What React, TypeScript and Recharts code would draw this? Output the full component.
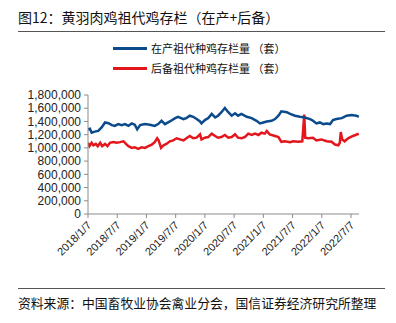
import React from "react";
import { LineChart, Line, XAxis, YAxis } from "recharts";

const tickLabels = [
  "2018/1/7", "2018/7/7", "2019/1/7", "2019/7/7", "2020/1/7",
  "2020/7/7", "2021/1/7", "2021/7/7", "2022/1/7", "2022/7/7",
];
const tickMonths = [0, 6, 12, 18, 24, 30, 36, 42, 48, 54];

// month offset from 2018/1/7
const prodMonths = [
  0, 0.4, 0.75, 1.4, 2.1, 2.8, 3.5, 4.2, 4.9, 5.5, 6.2, 6.9, 7.6, 8.3, 9.0, 9.6, 10.1, 10.7,
  11.7, 12.7, 13.7, 14.4, 15.1, 15.8, 16.8, 17.9, 18.5, 19.6, 20.2, 20.9, 21.6, 22.3, 23.0,
  23.3, 24.0, 24.7, 25.4, 26.1, 26.7, 27.4, 28.1, 28.8, 29.5, 30.2, 30.8, 31.5, 32.6, 33.6,
  34.6, 35.3, 36.0, 36.7, 37.7, 38.4, 39.1, 39.7, 40.8, 41.5, 42.5, 43.5, 44.5, 45.6, 46.2,
  46.9, 47.6, 48.3, 49.0, 49.7, 50.3, 51.0, 52.1, 53.1, 54.1, 55.1, 55.6,
];
const prodValues = [
  1282000, 1290000, 1230000, 1246000, 1256000, 1310000, 1385000, 1374000, 1344000, 1333000,
  1360000, 1344000, 1360000, 1333000, 1370000, 1350000, 1280000, 1344000, 1360000, 1350000,
  1333000, 1360000, 1410000, 1360000, 1400000, 1450000, 1470000, 1436000, 1450000, 1487000,
  1470000, 1436000, 1400000, 1370000, 1420000, 1450000, 1513000, 1460000, 1487000, 1540000,
  1605000, 1540000, 1487000, 1523000, 1487000, 1513000, 1470000, 1450000, 1410000, 1370000,
  1385000, 1400000, 1410000, 1436000, 1487000, 1554000, 1540000, 1513000, 1487000, 1470000,
  1460000, 1436000, 1410000, 1370000, 1385000, 1360000, 1370000, 1360000, 1420000, 1436000,
  1450000, 1487000, 1497000, 1487000, 1470000,
];

const reserveMonths = [
  0, 0.3, 0.75, 1.1, 1.6, 2.0, 2.5, 2.9, 3.5, 4.0, 4.5, 5.2, 5.9, 6.6, 7.3, 7.8, 8.3, 9.0,
  9.6, 10.3, 11.0, 11.7, 12.4, 13.1, 13.7, 14.2, 14.5, 15.0, 15.5, 16.1, 16.8, 17.5, 18.2,
  18.9, 19.6, 20.2, 20.9, 21.6, 22.3, 23.0, 23.3, 24.0, 24.7, 25.4, 26.1, 26.7, 27.4, 28.1,
  28.8, 29.5, 30.2, 30.8, 31.5, 32.2, 32.9, 33.6, 34.3, 35.0, 35.6, 36.3, 36.7, 37.3, 38.4,
  39.1, 39.7, 40.4, 41.5, 42.1, 43.2, 44.0, 44.4, 44.6, 45.2, 46.2, 46.9, 47.9, 49.0, 50.0,
  50.7, 51.4, 51.7, 51.9, 52.2, 52.7, 53.4, 54.4, 55.6,
];
const reserveValues = [
  1077000, 1026000, 1077000, 1040000, 1060000, 1026000, 1077000, 1026000, 1060000, 1026000,
  1077000, 1087000, 1077000, 1087000, 1100000, 1060000, 1026000, 1000000, 1010000, 985000,
  1010000, 1000000, 1026000, 1050000, 1087000, 1145000, 1113000, 1000000, 1040000, 1060000,
  1100000, 1113000, 1145000, 1128000, 1113000, 1145000, 1180000, 1145000, 1154000, 1205000,
  1128000, 1154000, 1164000, 1215000, 1180000, 1154000, 1164000, 1195000, 1154000, 1164000,
  1205000, 1154000, 1145000, 1164000, 1215000, 1195000, 1215000, 1195000, 1230000, 1215000,
  1256000, 1205000, 1180000, 1164000, 1092000, 1100000, 1087000, 1100000, 1092000, 1100000,
  1505000, 1154000, 1145000, 1154000, 1113000, 1128000, 1100000, 1092000, 1050000, 1040000,
  1077000, 1240000, 1128000, 1100000, 1145000, 1180000, 1215000,
];

const yTicks = [0, 200000, 400000, 600000, 800000, 1000000, 1200000, 1400000, 1600000, 1800000];

const prodData = prodMonths.map((m, i) => ({ m, v: prodValues[i] }));
const reserveData = reserveMonths.map((m, i) => ({ m, v: reserveValues[i] }));

const BLUE = "#0b4a8b";
const RED = "#e3161c";
const AXIS = "#8c8c8c";
const CJK = '"Noto Sans CJK SC", "Noto Sans", sans-serif';
const NUM = '"Liberation Sans", Arial, sans-serif';

const XTick = (props: any) => {
  const { x, y, payload } = props;
  const idx = tickMonths.indexOf(payload.value);
  return (
    <g transform={`translate(${x + 4},${y + 6})`}>
      <text
        x={0}
        y={0}
        textAnchor="end"
        transform="rotate(-45)"
        fontSize={11}
        fontFamily={NUM}
        fill="#222"
      >
        {idx >= 0 ? tickLabels[idx] : ""}
      </text>
    </g>
  );
};

const legendItems = [
  { color: BLUE, text: "在产祖代种鸡存栏量 （套）", top: 41 },
  { color: RED, text: "后备祖代种鸡存栏量 （套）", top: 61 },
];

export default function App() {
  return (
    <div
      style={{
        position: "absolute",
        left: 0,
        top: 0,
        width: 396,
        height: 323,
        background: "#fff",
        overflow: "hidden",
      }}
    >
      <div
        style={{
          position: "absolute",
          left: 18,
          top: 7,
          fontFamily: CJK,
          fontSize: 14,
          lineHeight: "20px",
          color: "#111",
          whiteSpace: "nowrap",
        }}
      >
        图12：黄羽肉鸡祖代鸡存栏（在产+后备）
      </div>
      <div
        style={{
          position: "absolute",
          left: 18,
          top: 31,
          width: 367,
          height: 1,
          background: "#555",
        }}
      />
      {legendItems.map((it) => (
        <div
          key={it.text}
          style={{
            position: "absolute",
            left: 113,
            top: it.top,
            height: 14,
            display: "flex",
            alignItems: "center",
            whiteSpace: "nowrap",
          }}
        >
          <div style={{ width: 34, height: 3, background: it.color, marginRight: 4 }} />
          <span style={{ fontFamily: CJK, fontSize: 11, lineHeight: "14px", color: "#111" }}>
            {it.text}
          </span>
        </div>
      ))}
      <LineChart
        width={396}
        height={323}
        data={prodData}
        margin={{ top: 95, right: 37, bottom: 49, left: 0 }}
      >
        <XAxis
          dataKey="m"
          type="number"
          domain={[0, 55.64]}
          ticks={tickMonths}
          allowDataOverflow
          height={60}
          stroke={AXIS}
          tickSize={4}
          tickLine={{ stroke: AXIS }}
          tick={<XTick />}
          interval={0}
        />
        <YAxis
          type="number"
          domain={[0, 1800000]}
          ticks={yTicks}
          width={88}
          stroke={AXIS}
          tickSize={4}
          tickMargin={3}
          interval={0}
          tick={{ fontSize: 12, fontFamily: NUM, fill: "#222" }}
          tickFormatter={(v: number) => v.toLocaleString("en-US")}
        />
        <Line
          data={reserveData}
          dataKey="v"
          stroke={RED}
          strokeWidth={2.5}
          dot={false}
          isAnimationActive={false}
          type="linear"
        />
        <Line
          data={prodData}
          dataKey="v"
          stroke={BLUE}
          strokeWidth={2.5}
          dot={false}
          isAnimationActive={false}
          type="linear"
        />
      </LineChart>
      <div
        style={{
          position: "absolute",
          left: 18,
          top: 288,
          width: 367,
          height: 1,
          background: "#555",
        }}
      />
      <div
        style={{
          position: "absolute",
          left: 18,
          top: 294,
          fontFamily: CJK,
          fontSize: 12.8,
          lineHeight: "18px",
          color: "#111",
          whiteSpace: "nowrap",
        }}
      >
        资料来源：中国畜牧业协会禽业分会，国信证券经济研究所整理
      </div>
    </div>
  );
}
